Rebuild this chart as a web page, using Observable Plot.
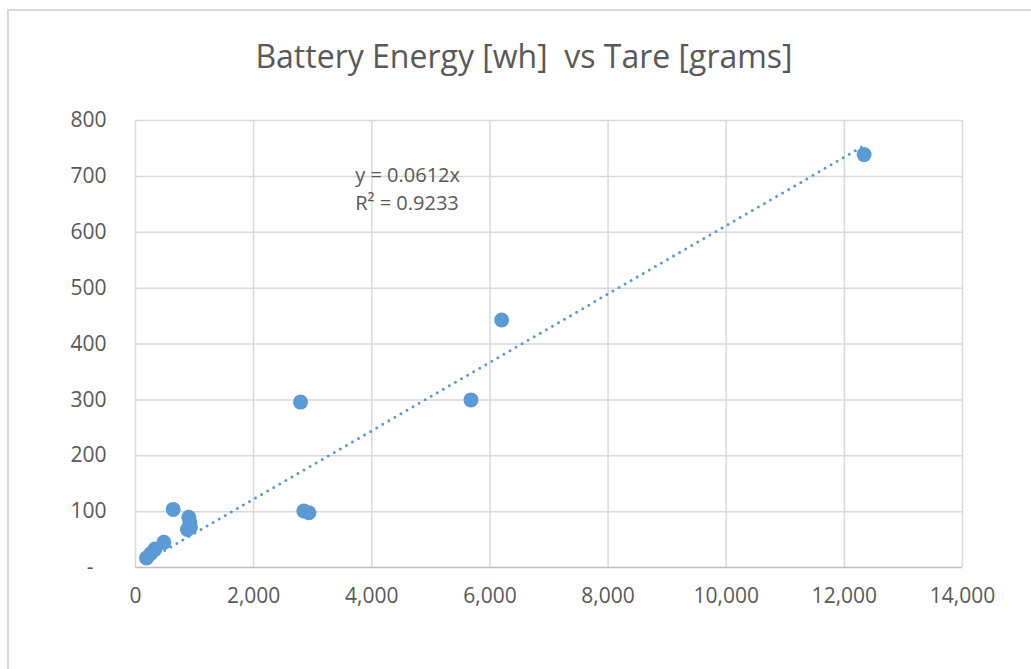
<!DOCTYPE html>
<html>
<head>
<meta charset="utf-8">
<script src="https://cdn.jsdelivr.net/npm/d3@7"></script>
<script src="https://cdn.jsdelivr.net/npm/@observablehq/plot@0.6"></script>
<style>
  html, body { margin: 0; padding: 0; background: #fff; }
  #wrap { position: relative; width: 1031px; height: 669px; overflow: hidden; background: #fff; }
  #frame { position: absolute; left: 7px; top: 9px; width: 1040px; height: 680px; border-left: 2px solid #d9d9d9; border-top: 2px solid #d9d9d9; box-sizing: border-box; }
  #title { position: absolute; left: 0; top: 0; width: 1048px; height: 100px; line-height: 112px; text-align: center; font-family: "Open Sans", sans-serif; font-size: 32px; color: #595959; white-space: pre; }
  #chart { position: absolute; left: 0; top: 100px; }
  #chart svg { background: transparent !important; }
</style>
</head>
<body>
<div id="wrap">
  <div id="frame"></div>
  <div id="title">Battery Energy [wh]  vs Tare [grams]</div>
  <div id="chart"></div>
</div>
<script>
// Data
const tare   = [186, 260, 330, 480, 638, 903, 920, 880, 930, 2850, 2935, 2794, 6198, 5679, 12334];
const energy = [ 17,  25,  33,  45, 104,  90,  80,  68,  72,  101,   98,  296,  443,  300,   739];
const xTicks = [0, 2000, 4000, 6000, 8000, 10000, 12000, 14000];
const yTicks = [0, 100, 200, 300, 400, 500, 600, 700, 800];
const slope = 0.0612;
const equationLines = ["y = 0.0612x", "R² = 0.9233"];

const points = tare.map((t, i) => ({x: t, y: energy[i]}));
const xmin = d3.min(tare), xmax = d3.max(tare);
const trend = [{x: xmin, y: slope * xmin}, {x: xmax, y: slope * xmax}];
const eq = equationLines.map((s, i) => ({label: s, x: 3720, y: 702 - i * 50}));

const blue = "#5b9bd5";
const grey = "#595959";

const chart = Plot.plot({
  width: 1031,
  height: 569,
  marginLeft: 135,
  marginRight: 69,
  marginTop: 20,
  marginBottom: 102,
  style: {fontFamily: "Open Sans, sans-serif", fontSize: "21px", color: grey, background: "transparent"},
  x: {domain: [0, 14000], ticks: xTicks, tickFormat: d3.format(","), label: null},
  y: {domain: [0, 800], ticks: yTicks, tickFormat: d => d === 0 ? "-" : String(d), label: null},
  marks: [
    Plot.gridX(xTicks, {stroke: "#d9d9d9", strokeOpacity: 1, strokeWidth: 1.5}),
    Plot.gridY(yTicks.filter(d => d > 0), {stroke: "#d9d9d9", strokeOpacity: 1, strokeWidth: 1.5}),
    Plot.ruleY([0], {stroke: "#bfbfbf", strokeWidth: 1.5}),
    Plot.axisX({ticks: xTicks, tickSize: 0, tickPadding: 21, tickFormat: d3.format(","), fill: grey, label: null}),
    Plot.axisY({ticks: yTicks, tickSize: 0, tickPadding: 29, tickFormat: d => d === 0 ? "-" : String(d), fill: grey, label: null}),
    Plot.line(trend, {x: "x", y: "y", stroke: blue, strokeWidth: 3, strokeDasharray: "0,7", strokeLinecap: "round"}),
    Plot.dot(points, {x: "x", y: "y", r: 7.5, fill: blue, stroke: null}),
    Plot.text(eq, {x: "x", y: "y", text: "label", textAnchor: "start", fill: grey, fontSize: 20})
  ]
});
document.getElementById("chart").appendChild(chart);
// shift the "-" zero label left as in the accounting format
d3.select(chart).selectAll("text").filter(function() { return this.textContent === "-"; }).attr("dx", -13);
</script>
</body>
</html>
